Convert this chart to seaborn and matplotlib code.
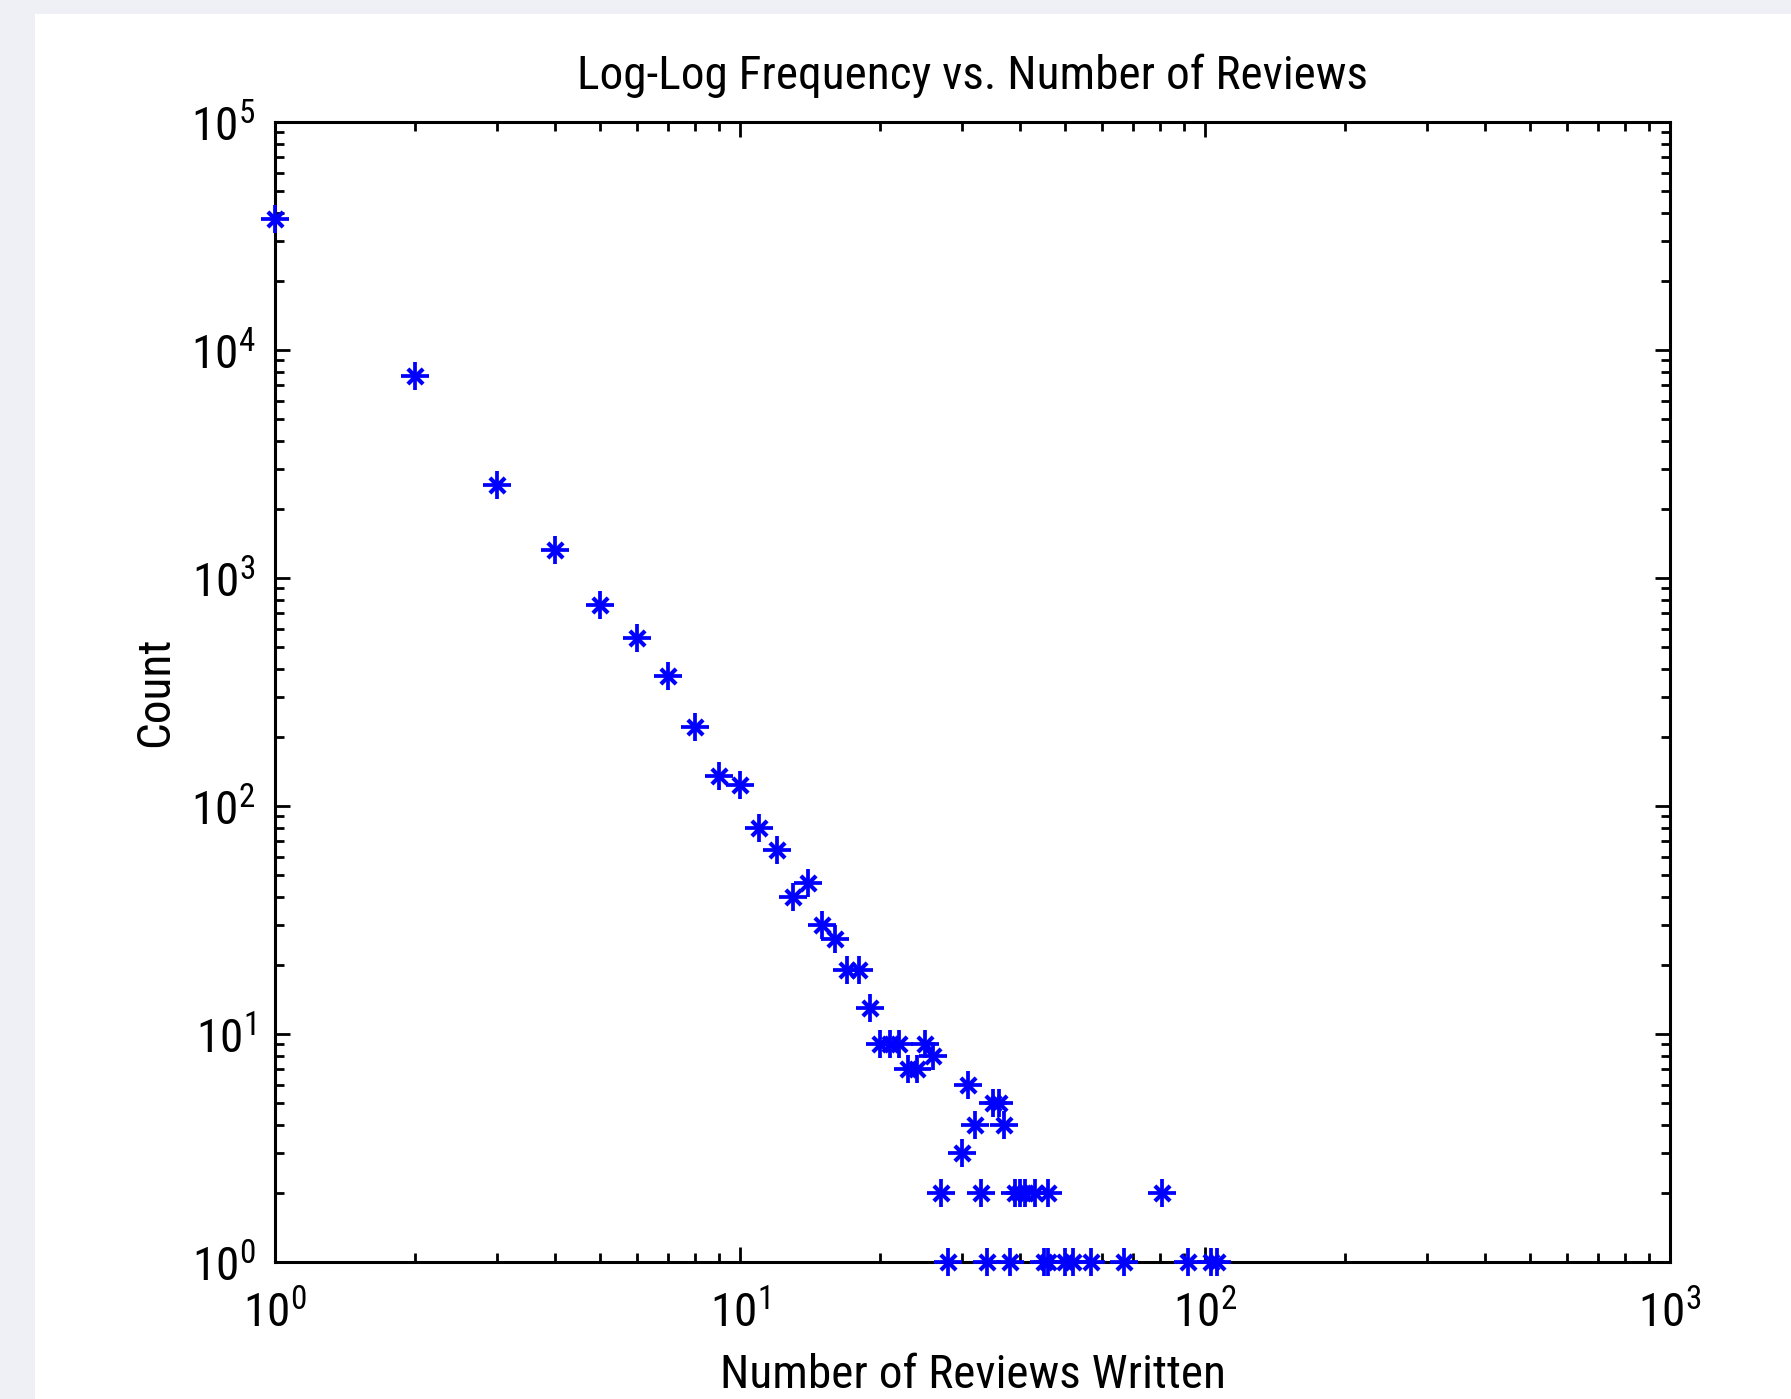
import matplotlib
matplotlib.use('Agg')
import matplotlib.pyplot as plt
import matplotlib.patches as patches
from matplotlib import font_manager
import seaborn as sns

# Reviews written per user and how many users wrote that many
reviews = [1, 2, 3, 4, 5, 6, 7, 8, 9, 10, 11, 12, 13, 14, 15, 16, 17, 18, 19, 20,
           21, 22, 23, 24, 25, 26, 27, 28, 30, 31, 32, 33, 34, 35, 36, 37, 38, 39, 40, 41,
           43, 45, 46, 46, 50, 52, 57, 67, 81, 92, 103, 106]
counts = [37600, 7700, 2550, 1330, 760, 544, 372, 221, 136, 124, 80, 64, 40, 46, 30, 26, 19, 19, 13, 9,
          9, 9, 7, 7, 9, 8, 2, 1, 3, 6, 4, 2, 1, 5, 5, 4, 1, 2, 2, 2,
          2, 1, 2, 1, 1, 1, 1, 1, 2, 1, 1, 1]

xtick_vals = [1, 10, 100, 1000]
xtick_labels = ['$\\mathregular{10^{0}}$', '$\\mathregular{10^{1}}$',
                '$\\mathregular{10^{2}}$', '$\\mathregular{10^{3}}$']
ytick_vals = [1, 10, 100, 1000, 10000, 100000]
ytick_labels = ['$\\mathregular{10^{%d}}$' % i for i in range(6)]

sns.set_style('ticks')

# the original uses a narrow MATLAB font; take a condensed face if one is installed
names = {f.name for f in font_manager.fontManager.ttflist}
condensed = [n for n in ['Liberation Sans Narrow', 'Roboto Condensed', 'Open Sans Condensed',
                         'Noto Sans Condensed', 'DejaVu Sans Condensed'] if n in names]
if condensed:
    main_font, fsize = condensed[0], 34
else:
    main_font, fsize = 'Liberation Sans', 29
plt.rcParams['font.family'] = [main_font, 'DejaVu Sans']
plt.rcParams['mathtext.fontset'] = 'custom'
plt.rcParams['mathtext.rm'] = main_font
plt.rcParams['text.color'] = 'black'
plt.rcParams['axes.labelcolor'] = 'black'

fig = plt.figure(figsize=(17.91, 13.99), dpi=100, facecolor='#EEF0F6')
# white panel like the MATLAB figure window
fig.patches.append(patches.Rectangle((35 / 1791, 0), 1, 1 - 14 / 1399, transform=fig.transFigure,
                                     facecolor='white', edgecolor='none', zorder=-10))
ax = fig.add_axes([275 / 1791, 1 - 1262 / 1399, (1670 - 275) / 1791, (1262 - 122) / 1399])
ax.set_zorder(5)
ax.set_facecolor('white')

# MATLAB-style asterisk: a plus with short diagonals
sns.scatterplot(x=reviews, y=counts, marker='+', s=430, color='#0000FF', linewidth=2.7, ax=ax, zorder=4)
sns.scatterplot(x=reviews, y=counts, marker='x', s=120, color='#0000FF', linewidth=3.0, ax=ax, zorder=4)
for c in ax.collections:
    c.set_clip_on(False)

ax.set_xscale('log')
ax.set_yscale('log')
ax.set_xlim(1, 1000)
ax.set_ylim(1, 100000)
ax.set_xticks(xtick_vals)
ax.set_xticklabels(xtick_labels)
ax.set_yticks(ytick_vals)
ax.set_yticklabels(ytick_labels)

for side in ['top', 'right', 'bottom', 'left']:
    ax.spines[side].set_visible(True)
    ax.spines[side].set_linewidth(2.2)
    ax.spines[side].set_color('black')
ax.tick_params(which='both', direction='in', top=True, right=True, colors='black',
               labelsize=fsize, width=2.0, pad=14)
ax.tick_params(axis='x', which='major', pad=20)
ax.tick_params(which='major', length=11)
ax.tick_params(which='minor', length=6.5)

ax.set_title('Log-Log Frequency vs. Number of Reviews', fontsize=fsize, pad=24)
ax.set_xlabel('Number of Reviews Written', fontsize=fsize, labelpad=12)
ax.set_ylabel('Count', fontsize=fsize, labelpad=10)
ax.grid(False)

fig.savefig('out.png', dpi=100, facecolor=fig.get_facecolor())
